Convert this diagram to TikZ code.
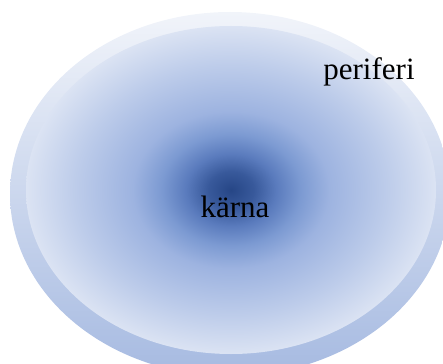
\documentclass[tikz,border=0pt]{standalone}
\usepackage{fontspec}
\setmainfont{Liberation Serif}
\definecolor{c0}{HTML}{264686}
\definecolor{c1}{HTML}{38599B}
\definecolor{c2}{HTML}{5A7BBD}
\definecolor{c3}{HTML}{7C9AD2}
\definecolor{c4}{HTML}{9DB3E0}
\definecolor{c5}{HTML}{BDCCEA}
\definecolor{c6}{HTML}{DBE3F3}
\definecolor{ringtop}{HTML}{F1F4FA}
\definecolor{ringbot}{HTML}{A6BAE1}
\pgfdeclareradialshading{core}{\pgfpoint{0bp}{0bp}}{color(0bp)=(c0); color(2.8bp)=(c1); color(5.5bp)=(c2); color(8.5bp)=(c3); color(12bp)=(c4); color(19bp)=(c5); color(25bp)=(c6); color(50bp)=(c6)}
\tikzset{lbl/.style={font=\fontsize{31}{36}\selectfont, inner sep=0pt}}
\begin{document}
\begin{tikzpicture}[x=1pt,y=-1pt]
\useasboundingbox (0,0) rectangle (443,363);
\clip (0,0) rectangle (443,363);
\shade[top color=ringtop, bottom color=ringbot] (230,194) ellipse [x radius=220, y radius=182];
\shade[shading=core] (231,190) ellipse [x radius=205, y radius=164];
\node[lbl] (core) at (235,207) {kärna};
\node[lbl] (per) at (369,72) {periferi};
\end{tikzpicture}
\end{document}
